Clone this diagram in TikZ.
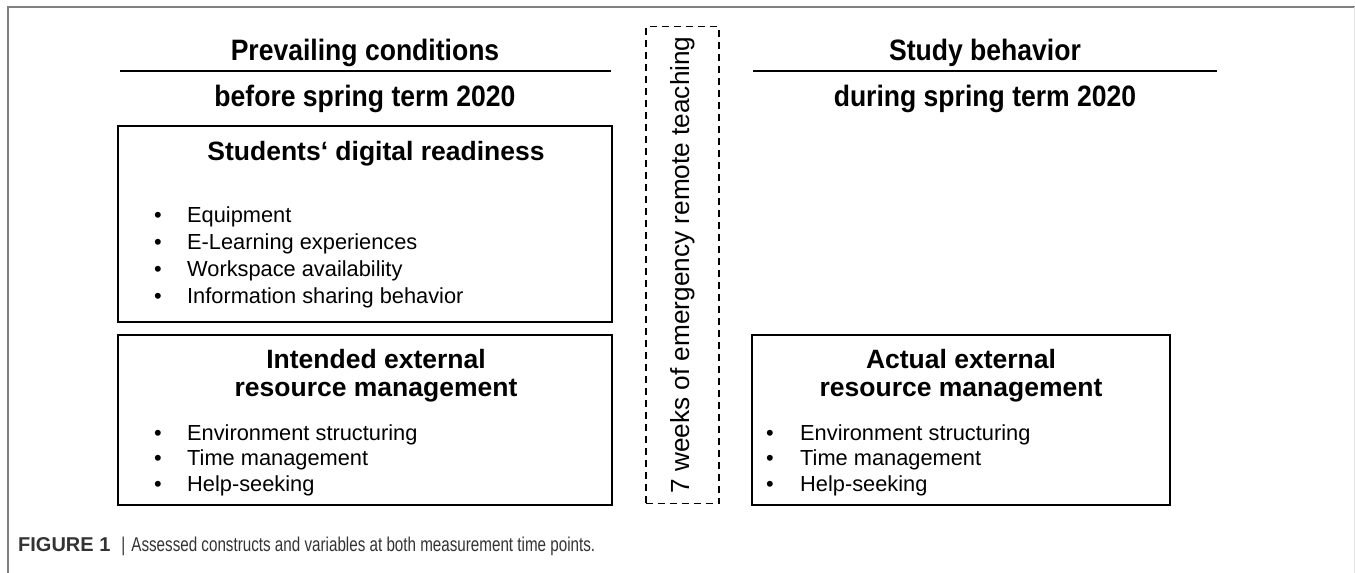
\documentclass[tikz,border=0pt]{standalone}
\usepackage{fontspec}
\setmainfont{Liberation Sans}
\newfontfamily\headfont[FakeStretch=0.9]{Liberation Sans}
\newfontfamily\capfont[FakeStretch=0.76]{Liberation Sans}
\usetikzlibrary{positioning}
\newcommand{\itemdot}{\makebox[33pt][l]{•}}

\begin{document}
\begin{tikzpicture}[x=1pt, y=-1pt,
  head/.style={font=\headfont\fontsize{29.5}{34}\selectfont\bfseries, inner sep=0pt, anchor=base},
  title/.style={font=\fontsize{26.5}{32}\selectfont\bfseries, inner sep=0pt, anchor=base},
  item/.style={font=\fontsize{21.8}{28}\selectfont, inner sep=0pt, anchor=base west},
  frame/.style={draw, line width=1.8pt, inner sep=0pt},
  rule/.style={line width=1.8pt}]
\useasboundingbox (0,0) rectangle (1355,573);
\draw [color=black!50, line width=1.2pt] (8,573) -- (8,7) -- (1355,7);
\draw [color=black!10, line width=0.8pt] (1354,7) -- (1354,573);

% before the term
\node [head] (prevT) at (365,60) {Prevailing conditions};
\node [head] (beforeT) at (365,106) {before spring term 2020};
\draw [rule] (120,71) -- (611,71);

\node [frame, minimum width=494pt, minimum height=196pt] (readiness) at (365,224) {};
\node [title] (readinessT) at (376,160) {Students‘ digital readiness};
\node [item] (equip) at (154,222.5) {\itemdot Equipment};
\node [item] (elearn) at (154,249.5) {\itemdot E-Learning experiences};
\node [item] (workspace) at (154,276.5) {\itemdot Workspace availability};
\node [item] (sharing) at (154,303.5) {\itemdot Information sharing behavior};

\node [frame, minimum width=494pt, minimum height=170pt] (intended) at (365,420) {};
\node [title] (intendedT) at (376,368) {Intended external};
\node [title] (intendedU) at (376,396) {resource management};
\node [item] (envA) at (154,440) {\itemdot Environment structuring};
\node [item] (timeA) at (154,465.5) {\itemdot Time management};
\node [item] (helpA) at (154,491) {\itemdot Help-seeking};

% the seven weeks
\node [draw, dashed, dash pattern=on 7pt off 5pt, line width=1.8pt, minimum width=73pt, minimum height=477pt, inner sep=0pt] (gap) at (682.5,265) {};
\node [rotate=90, inner sep=0pt, font=\fontsize{26.2}{30}\selectfont] (gapT) at (gap.center) {7 weeks of emergency remote teaching};

% during the term
\node [head] (studyT) at (985,60) {Study behavior};
\node [head] (duringT) at (985,106) {during spring term 2020};
\draw [rule] (753,71) -- (1217,71);

\node [frame, minimum width=418pt, minimum height=170pt] (actual) at (961,420) {};
\node [title] (actualT) at (961,368) {Actual external};
\node [title] (actualU) at (961,396) {resource management};
\node [item] (envB) at (766,440) {\makebox[34pt][l]{•}Environment structuring};
\node [item] (timeB) at (766,465.5) {\makebox[34pt][l]{•}Time management};
\node [item] (helpB) at (766,491) {\makebox[34pt][l]{•}Help-seeking};

\node [anchor=base west, inner sep=0pt, font=\capfont\fontsize{20}{24}\selectfont, text=black!80] (caption) at (18,551)
  {{\normalfont\fontsize{20}{24}\selectfont\bfseries FIGURE 1}\hspace{11pt}|\hspace{6pt}Assessed constructs and variables at both measurement time points.};
\end{tikzpicture}
\end{document}
